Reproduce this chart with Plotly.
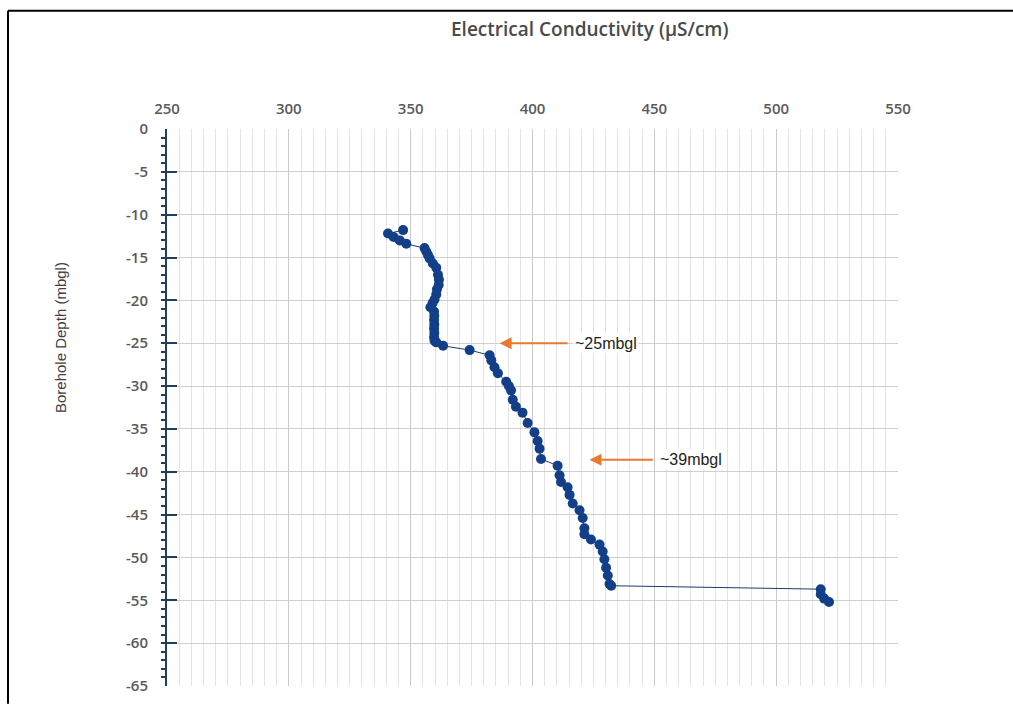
import plotly.graph_objects as go

# Electrical conductivity log (µS/cm) against borehole depth (mbgl)
conductivity = [
    346.9, 340.7, 343.0, 345.5, 348.2, 355.7, 356.4, 357.1, 357.8, 359.1,
    360.5, 361.2, 361.6, 361.5, 360.8, 360.5, 359.8, 359.0, 358.1, 359.6,
    359.7, 359.6, 359.7, 359.6, 359.7, 359.6, 359.8, 360.5, 363.3, 374.2,
    382.4, 383.1, 384.4, 385.8, 389.2, 390.3, 391.2, 391.9, 393.2, 395.9,
    398.0, 400.8, 402.1, 402.9, 403.5, 410.3, 411.1, 411.7, 414.4, 415.2,
    416.5, 419.3, 420.6, 421.3, 421.3, 424.0, 427.5, 428.8, 429.5, 430.2,
    430.9, 431.6, 432.3, 518.3, 518.3, 519.7, 521.7,
]
depth = [
    -11.8, -12.2, -12.6, -13.0, -13.4, -13.9, -14.3, -14.7, -15.1, -15.7,
    -16.2, -17.0, -17.6, -18.2, -18.7, -19.3, -19.9, -20.3, -20.8, -21.3,
    -21.8, -22.3, -22.8, -23.3, -23.8, -24.3, -24.7, -24.9, -25.3, -25.8,
    -26.4, -27.0, -27.8, -28.5, -29.5, -30.0, -30.5, -31.6, -32.4, -33.1,
    -34.3, -35.4, -36.4, -37.3, -38.5, -39.3, -40.4, -41.2, -41.8, -42.7,
    -43.7, -44.5, -45.4, -46.6, -47.3, -47.9, -48.5, -49.3, -50.2, -51.2,
    -52.1, -53.1, -53.3, -53.7, -54.3, -54.8, -55.2,
]

x_ticks = [250, 300, 350, 400, 450, 500, 550]
y_ticks = [0, -5, -10, -15, -20, -25, -30, -35, -40, -45, -50, -55, -60, -65]
y_tick_text = [str(v) for v in y_ticks]  # plain hyphen-minus labels

# Marked depths: (depth, arrow head x, arrow tail x, label)
markers_depth = [-25.0, -38.6]
arrow_head_x = [386.5, 423.4]
arrow_tail_x = [415.0, 450.0]
marker_labels = ["~25mbgl", "~39mbgl"]

W, H = 1013, 707
L, R, T, B = 167, 115, 129, 13
PW, PH = W - L - R, H - T - B


def px(x):
    return (x - L) / PW


def py(y):
    return (H - B - y) / PH


fig = go.Figure()
fig.add_trace(go.Scatter(
    x=conductivity, y=depth, mode="lines+markers",
    line=dict(color="#1c3a6b", width=1),
    marker=dict(color="#123f88", size=10),
    showlegend=False, hoverinfo="x+y",
))

tick_font = dict(family="Open Sans, sans-serif", size=15, color="#5a5a5a", weight=600)

fig.update_layout(
    width=W, height=H,
    margin=dict(l=L, r=R, t=T, b=B),
    paper_bgcolor="white", plot_bgcolor="white",
    xaxis=dict(
        side="top", range=[250, 550], tickvals=x_ticks,
        tickfont=tick_font, ticklabelstandoff=11,
        showgrid=True, gridcolor="#c9c9c9", gridwidth=1,
        minor=dict(dtick=5, showgrid=True, gridcolor="#e3e3e3", gridwidth=1),
        showline=False, zeroline=False, ticks="",
    ),
    yaxis=dict(
        range=[-65, 0], tickvals=y_ticks, ticktext=y_tick_text,
        tickfont=tick_font, ticklabelstandoff=14,
        showgrid=True, gridcolor="#cfcfcf", gridwidth=1,
        showline=True, linecolor="#1f3f5c", linewidth=2,
        ticks="inside", ticklen=10, tickwidth=2, tickcolor="#1f3f5c",
        minor=dict(dtick=1, ticks="outside", ticklen=4, tickwidth=1.5,
                   tickcolor="#1f3f5c", showgrid=False),
        zeroline=False,
    ),
)

annotations = [
    dict(text="Electrical Conductivity (µS/cm)", xref="paper", yref="paper",
         x=px(590), y=py(28), xanchor="center", yanchor="middle", showarrow=False,
         font=dict(family="Open Sans, sans-serif", size=19, color="#4a4a4a", weight=600)),
    dict(text="Borehole Depth (mbgl)", xref="paper", yref="paper",
         x=px(60), y=py(340), xanchor="center", yanchor="middle",
         showarrow=False, textangle=-90,
         font=dict(family="Liberation Sans Narrow, Arial Narrow, Liberation Sans, sans-serif",
                   size=15, color="#404040")),
]
for d, hx, tx, lab in zip(markers_depth, arrow_head_x, arrow_tail_x, marker_labels):
    annotations.append(dict(
        x=hx, y=d, ax=tx, ay=d, xref="x", yref="y", axref="x", ayref="y",
        text="", showarrow=True, arrowhead=2, arrowsize=1.2, arrowwidth=2,
        arrowcolor="#e8792f",
    ))
    annotations.append(dict(
        x=tx + 1.5, y=d, xref="x", yref="y", text=lab, showarrow=False,
        xanchor="left", yanchor="middle", bgcolor="white",
        font=dict(family="Liberation Sans, Arial, sans-serif", size=16, color="#222222"),
    ))
fig.update_layout(annotations=annotations)

# Outer frame along the left and top edges
fig.add_shape(type="line", xref="paper", yref="paper",
              x0=px(8), x1=px(8), y0=py(9), y1=py(H + 5),
              line=dict(color="black", width=2))
fig.add_shape(type="line", xref="paper", yref="paper",
              x0=px(8), x1=px(W + 5), y0=py(9), y1=py(9),
              line=dict(color="black", width=2))

fig.write_html("out.html")
